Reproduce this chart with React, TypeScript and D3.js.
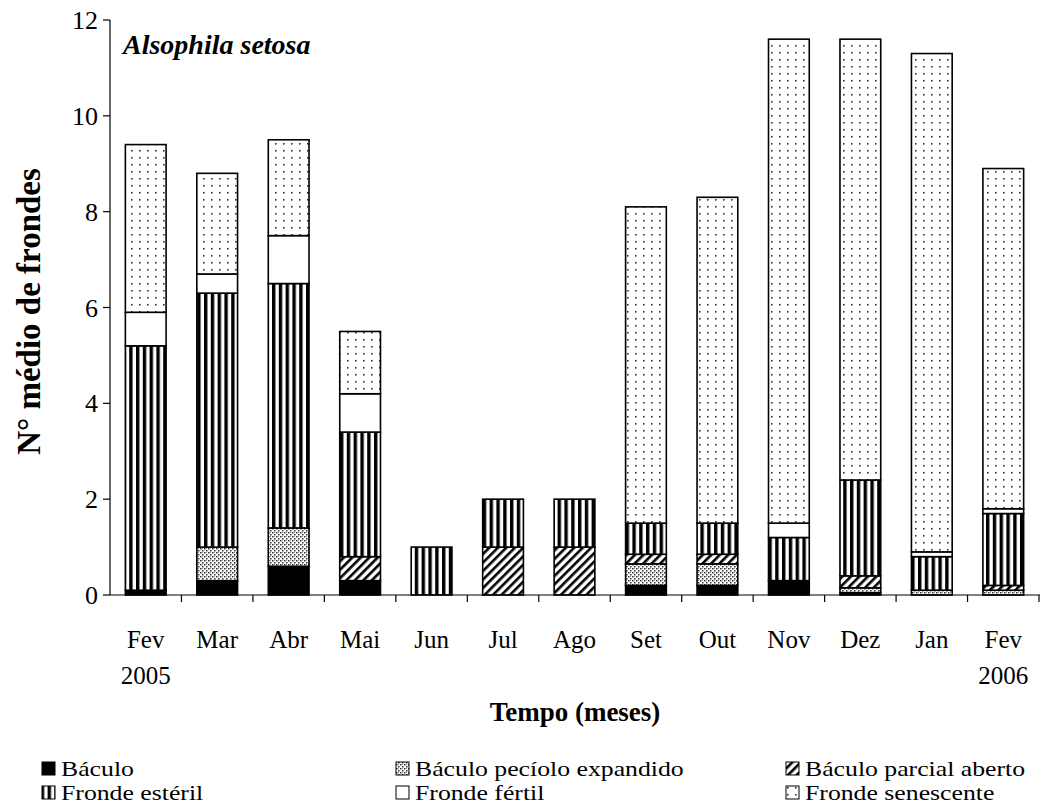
import React from "react";
import * as d3 from "d3";

const months = ["Fev", "Mar", "Abr", "Mai", "Jun", "Jul", "Ago", "Set", "Out", "Nov", "Dez", "Jan", "Fev"];
const years = ["2005", "", "", "", "", "", "", "", "", "", "", "", "2006"];
const seriesNames = ["Báculo", "Báculo pecíolo expandido", "Báculo parcial aberto", "Fronde estéril", "Fronde fértil", "Fronde senescente"];
const baculo = [0.1, 0.3, 0.6, 0.3, 0, 0, 0, 0.2, 0.2, 0.3, 0.05, 0, 0];
const peciolo = [0, 0.7, 0.8, 0, 0, 0, 0, 0.45, 0.45, 0, 0.1, 0.1, 0.1];
const parcial = [0, 0, 0, 0.5, 0, 1.0, 1.0, 0.2, 0.2, 0, 0.25, 0, 0.1];
const esteril = [5.1, 5.3, 5.1, 2.6, 1.0, 1.0, 1.0, 0.65, 0.65, 0.9, 2.0, 0.7, 1.5];
const fertil = [0.7, 0.4, 1.0, 0.8, 0, 0, 0, 0, 0, 0.3, 0, 0.1, 0.1];
const senescente = [3.5, 2.1, 2.0, 1.3, 0, 0, 0, 6.6, 6.8, 10.1, 9.2, 10.4, 7.1];
const yTicks = [0, 2, 4, 6, 8, 10, 12];

const seriesValues = [baculo, peciolo, parcial, esteril, fertil, senescente];
const fills = ["#000", "url(#pPec)", "url(#pHatch)", "url(#pStripe)", "#fff", "url(#pDots)"];

const W = 1040, H = 810;
const left = 110, right = 1039, top = 20, bottom = 595;
const FONT = "'Liberation Serif', 'Times New Roman', serif";

export default function App() {
  const x = d3.scaleBand<number>().domain(months.map((_, i) => i)).range([left, right]).paddingInner(0.43).paddingOuter(0.215);
  const y = d3.scaleLinear().domain([0, 12]).range([bottom, top]);
  const rows = months.map((_, i) => {
    const r: any = { i };
    seriesNames.forEach((s, k) => (r[s] = seriesValues[k][i]));
    return r;
  });
  const stacked = d3.stack<any>().keys(seriesNames)(rows);
  const step = (right - left) / months.length;
  const legendPos = [
    [42, 776], [396, 776], [786, 776],
    [42, 800], [396, 800], [786, 800],
  ];
  return (
    <svg width={W} height={H} style={{ position: "absolute", left: 0, top: 0, background: "#fff" }} fontFamily={FONT}>
      <defs>
        <pattern id="pStripe" patternUnits="userSpaceOnUse" width={6.8} height={10}>
          <rect width={6.8} height={10} fill="#fff" />
          <rect x={0} width={3.4} height={10} fill="#000" />
        </pattern>
        <pattern id="pHatch" patternUnits="userSpaceOnUse" width={6} height={6} patternTransform="rotate(45)">
          <rect width={6} height={6} fill="#fff" />
          <rect x={0} width={2.6} height={6} fill="#000" />
        </pattern>
        <pattern id="pDots" patternUnits="userSpaceOnUse" width={8} height={7}>
          <rect width={8} height={7} fill="#fff" />
          <rect x={3} y={3} width={1.6} height={1.6} fill="#333" />
        </pattern>
        <pattern id="pPec" patternUnits="userSpaceOnUse" width={4} height={4}>
          <rect width={4} height={4} fill="#fff" />
          <rect x={0} y={0} width={1.5} height={1.5} fill="#333" />
          <rect x={2} y={2} width={1.5} height={1.5} fill="#333" />
          <rect x={2} y={0} width={1} height={1} fill="#999" />
        </pattern>
      </defs>

      {stacked.map((layer, k) => (
        <g key={layer.key}>
          {layer.map((d, i) => {
            const h = y(d[0]) - y(d[1]);
            if (h <= 0.01) return null;
            return (
              <rect key={i} x={x(i)} y={y(d[1])} width={x.bandwidth()} height={h}
                fill={fills[k]} stroke="#000" strokeWidth={1.6} />
            );
          })}
        </g>
      ))}

      {/* axes */}
      <line x1={left} x2={left} y1={top} y2={bottom} stroke="#000" strokeWidth={1.2} />
      {yTicks.map((t) => (
        <g key={t}>
          <line x1={left - 7} x2={left} y1={y(t)} y2={y(t)} stroke="#000" strokeWidth={1.2} />
          <text x={left - 12} y={y(t)} dy="0.35em" textAnchor="end" fontSize={26}>{t}</text>
        </g>
      ))}
      <line x1={left} x2={right + 1} y1={bottom} y2={bottom} stroke="#000" strokeWidth={1.2} />
      {months.map((_, i) => (
        <line key={i} x1={left + step * (i + 1)} x2={left + step * (i + 1)} y1={bottom} y2={bottom + 7} stroke="#000" strokeWidth={1.2} />
      ))}
      {months.map((m, i) => (
        <g key={i}>
          <text x={(x(i) as number) + x.bandwidth() / 2} y={648} textAnchor="middle" fontSize={25}>{m}</text>
          {years[i] && <text x={(x(i) as number) + x.bandwidth() / 2} y={684} textAnchor="middle" fontSize={25}>{years[i]}</text>}
        </g>
      ))}

      <text x={575} y={721} textAnchor="middle" fontSize={27} fontWeight="bold">Tempo (meses)</text>
      <text transform={`translate(40,${(top + bottom) / 2 + 4}) rotate(-90)`} textAnchor="middle" fontSize={33} fontWeight="bold">N° médio de frondes</text>
      <text x={123} y={54} fontSize={28} fontWeight="bold" fontStyle="italic">Alsophila setosa</text>

      {seriesNames.map((s, k) => (
        <g key={s}>
          <rect x={legendPos[k][0]} y={legendPos[k][1] - 14} width={13} height={13} fill={fills[k]} stroke="#000" strokeWidth={1} />
          <text transform={`translate(${legendPos[k][0] + 19},${legendPos[k][1]}) scale(1.17,1)`} fontSize={22}>{s}</text>
        </g>
      ))}
    </svg>
  );
}
